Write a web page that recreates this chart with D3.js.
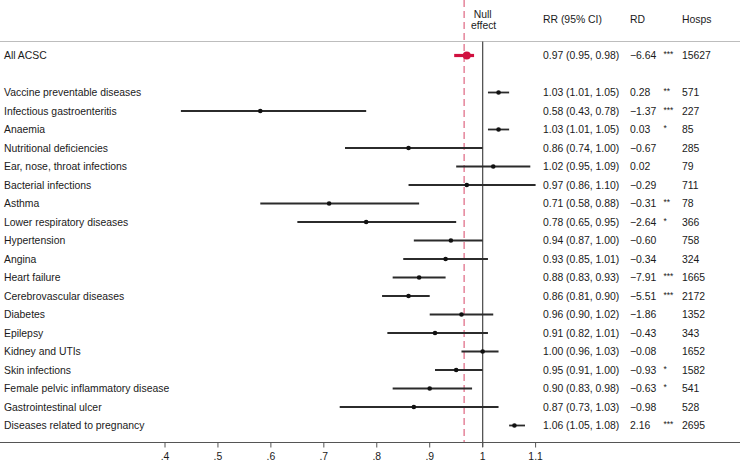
<!DOCTYPE html>
<html>
<head>
<meta charset="utf-8">
<script src="https://cdn.jsdelivr.net/npm/d3@7"></script>
<style>
  body { margin: 0; background: #fff; }
  svg text { font-family: "Liberation Sans", Arial, Helvetica, sans-serif; fill: #1a1a1a; }
</style>
</head>
<body>
<svg width="740" height="461"></svg>
<script>
// overall estimate
var overall = {name: "All ACSC", rr: 0.97, lo: 0.95, hi: 0.98, rd: "\u22126.64", sig: "***", hosps: "15627"};

// conditions
var names = ["Vaccine preventable diseases", "Infectious gastroenteritis", "Anaemia",
  "Nutritional deficiencies", "Ear, nose, throat infections", "Bacterial infections", "Asthma",
  "Lower respiratory diseases", "Hypertension", "Angina", "Heart failure",
  "Cerebrovascular diseases", "Diabetes", "Epilepsy", "Kidney and UTIs", "Skin infections",
  "Female pelvic inflammatory disease", "Gastrointestinal ulcer", "Diseases related to pregnancy"];
var rr = [1.03, 0.58, 1.03, 0.86, 1.02, 0.97, 0.71, 0.78, 0.94, 0.93, 0.88, 0.86, 0.96, 0.91, 1.00, 0.95, 0.90, 0.87, 1.06];
var lo = [1.01, 0.43, 1.01, 0.74, 0.95, 0.86, 0.58, 0.65, 0.87, 0.85, 0.83, 0.81, 0.90, 0.82, 0.96, 0.91, 0.83, 0.73, 1.05];
var hi = [1.05, 0.78, 1.05, 1.00, 1.09, 1.10, 0.88, 0.95, 1.00, 1.01, 0.93, 0.90, 1.02, 1.01, 1.03, 1.00, 0.98, 1.03, 1.08];
var rd = ["0.28", "\u22121.37", "0.03", "\u22120.67", "0.02", "\u22120.29", "\u22120.31", "\u22122.64", "\u22120.60",
  "\u22120.34", "\u22127.91", "\u22125.51", "\u22121.86", "\u22120.43", "\u22120.08", "\u22120.93", "\u22120.63", "\u22120.98", "2.16"];
var sig = ["**", "***", "*", "", "", "", "**", "*", "", "", "***", "***", "", "", "", "*", "*", "", "***"];
var hosps = ["571", "227", "85", "285", "79", "711", "78", "366", "758", "324", "1665", "2172",
  "1352", "343", "1652", "1582", "541", "528", "2695"];

var tickVals = [0.4, 0.5, 0.6, 0.7, 0.8, 0.9, 1, 1.1];
var nullEffect = 0.965;

var svg = d3.select("svg");
var fs = 10.4;

var x = d3.scaleLinear().domain([0.4, 1.1]).range([165, 535.6]);

// row positions: overall at slot 0, blank slot 1, conditions from slot 2
var y = d3.scaleLinear().domain([0, 20]).range([55.5, 425.5]);

var fmt = function(v) { return v.toFixed(2); };
var tickFmt = function(d) { return d === 1 ? "1" : d3.format(".1f")(d).replace(/^0/, ""); };

var rows = names.map(function(n, i) {
  return {name: n, rr: rr[i], lo: lo[i], hi: hi[i], rd: rd[i], sig: sig[i], hosps: hosps[i], slot: i + 2};
});
overall.slot = 0;

// header rule
svg.append("line")
  .attr("x1", 0).attr("x2", 740).attr("y1", 41.5).attr("y2", 41.5)
  .attr("stroke", "#bdbdbd").attr("stroke-width", 1);

// bottom axis
var axis = svg.append("g").attr("transform", "translate(0,442.5)");
axis.append("line").attr("x1", 0).attr("x2", 740)
  .attr("stroke", "#555").attr("stroke-width", 1);
axis.selectAll(".tk").data(tickVals).enter().append("line")
  .attr("x1", x).attr("x2", x).attr("y1", 0).attr("y2", 5)
  .attr("stroke", "#555");
axis.selectAll(".tl").data(tickVals).enter().append("text")
  .attr("x", x).attr("y", 17.5).attr("text-anchor", "middle")
  .attr("font-size", fs).text(tickFmt);

// line of no effect
svg.append("line")
  .attr("x1", x(1)).attr("x2", x(1)).attr("y1", 41.5).attr("y2", 447)
  .attr("stroke", "#555").attr("stroke-width", 1.3);

// null effect (pooled) dashed
svg.append("line")
  .attr("x1", x(nullEffect)).attr("x2", x(nullEffect)).attr("y1", 0).attr("y2", 442)
  .attr("stroke", "#e0708a").attr("stroke-width", 1.3).attr("stroke-dasharray", "7,4");

svg.append("text").attr("x", x(1)).attr("y", 18).attr("text-anchor", "middle")
  .attr("font-size", fs).text("Null");
svg.append("text").attr("x", x(1) + 1).attr("y", 28.5).attr("text-anchor", "middle")
  .attr("font-size", fs).text("effect");

// column headers
var cols = {rr: 543, rd: 630, star: 663.5, hosps: 682};
svg.append("text").attr("x", cols.rr).attr("y", 23).attr("font-size", fs).text("RR (95% CI)");
svg.append("text").attr("x", cols.rd).attr("y", 23).attr("font-size", fs).text("RD");
svg.append("text").attr("x", cols.hosps).attr("y", 23).attr("font-size", fs).text("Hosps");

var all = [overall].concat(rows);

var g = svg.selectAll(".row").data(all).enter().append("g")
  .attr("transform", function(d) { return "translate(0," + y(d.slot) + ")"; });

g.append("text").attr("x", 4).attr("dy", "0.35em").attr("font-size", fs)
  .text(function(d) { return d.name; });
g.append("text").attr("x", cols.rr).attr("dy", "0.35em").attr("font-size", fs)
  .text(function(d) { return fmt(d.rr) + " (" + fmt(d.lo) + ", " + fmt(d.hi) + ")"; });
g.append("text").attr("x", cols.rd).attr("dy", "0.35em").attr("font-size", fs)
  .text(function(d) { return d.rd; });
g.append("text").attr("x", cols.star).attr("dy", "0.2em").attr("font-size", 8.5)
  .text(function(d) { return d.sig; });
g.append("text").attr("x", cols.hosps).attr("dy", "0.35em").attr("font-size", fs)
  .text(function(d) { return d.hosps; });

// condition CIs
g.filter(function(d) { return d.slot > 0; }).append("line")
  .attr("x1", function(d) { return x(d.lo); })
  .attr("x2", function(d) { return x(d.hi); })
  .attr("stroke", "#2b2b2b").attr("stroke-width", 1.8);
g.filter(function(d) { return d.slot > 0; }).append("circle")
  .attr("cx", function(d) { return x(d.rr); })
  .attr("r", 2.3).attr("fill", "#111");

// overall estimate in red
var ov = g.filter(function(d) { return d.slot === 0; });
ov.append("line")
  .attr("x1", function(d) { return x(d.lo) - 2; })
  .attr("x2", function(d) { return x(d.hi) + 2; })
  .attr("stroke", "#d0103f").attr("stroke-width", 3.2);
ov.append("circle")
  .attr("cx", function(d) { return x(d.rr); })
  .attr("r", 4).attr("fill", "#d0103f");
</script>
</body>
</html>
